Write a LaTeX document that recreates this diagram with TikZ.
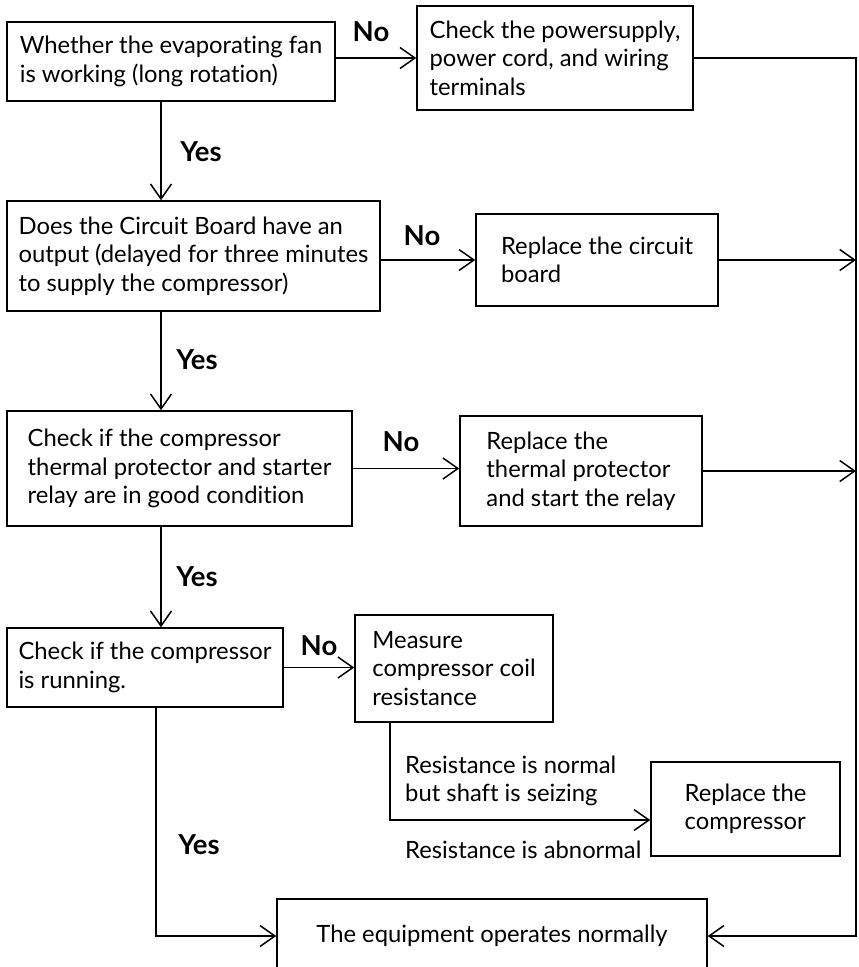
\documentclass[tikz,border=0pt]{standalone}
\usepackage{fontspec}
\setmainfont{Lato}[Ligatures=CommonOff]
\usetikzlibrary{arrows.meta, positioning}

\tikzset{
  box/.style={draw, line width=1.5pt, align=left, inner sep=0pt,
    font=\fontsize{23.8}{28.5}\selectfont},
  answer/.style={font=\fontsize{27.5}{30}\selectfont\bfseries},
  remark/.style={align=left, inner sep=0pt, anchor=west,
    font=\fontsize{23.8}{28.5}\selectfont},
  flow/.style={->, line width=1.5pt},
}

\begin{document}
\begin{tikzpicture}[x=1pt, y=-1pt, >={Straight Barb[length=15pt,width=21pt]}]
        \useasboundingbox (0,0) rectangle (859,967);
        % Boxes
        \node[box, minimum width=328, minimum height=79] (fan) at (171,61.5)
          {Whether the evaporating fan\\is working (long rotation)};
        \node[box, minimum width=276, minimum height=104] (power) at (555,58)
          {Check the powersupply,\\power cord, and wiring\\terminals};
        \node[box, minimum width=373, minimum height=110] (board) at (193.5,256)
          {Does the Circuit Board have an\\output (delayed for three minutes\\to supply the compressor)};
        \node[box, minimum width=242, minimum height=92] (newboard) at (597,260)
          {Replace the circuit\\board};
        \node[box, minimum width=345, minimum height=115] (relay) at (179.5,468.5)
          {Check if the compressor\\thermal protector and starter\\relay are in good condition};
        \node[box, minimum width=242, minimum height=110] (newrelay) at (581,471)
          {Replace the\\thermal protector\\and start the relay};
        \node[box, minimum width=276, minimum height=79] (running) at (145,667.5)
          {Check if the compressor\\is running.};
        \node[box, minimum width=198, minimum height=107] (coil) at (454,668.5)
          {Measure\\compressor coil\\resistance};
        \node[box, minimum width=189, minimum height=94] (newcomp) at (745.5,809)
          {Replace the\\compressor};
        \node[box, minimum width=430, minimum height=74] (normal) at (492,936)
          {The equipment operates normally};
        % Helper coordinates
        \coordinate (spine) at (161,0);
        \coordinate (drop) at (156,0);
        \coordinate (rail) at (856,0);
        \coordinate (seize) at (390,820);
        % Yes branch
        \draw[flow] (spine |- fan.south) -- (spine |- board.north);
        \draw[flow] (spine |- board.south) -- (spine |- relay.north);
        \draw[flow] (spine |- relay.south) -- (spine |- running.north);
        \draw[flow] (drop |- running.south) |- (normal.west);
        % No branch
        \draw[flow] (fan.east |- power.west) -- (power.west);
        \draw[flow] (board.east |- newboard.west) -- (newboard.west);
        \draw[flow] (relay.east) -- (relay.east -| newrelay.west);
        \draw[flow] (running.east) -- (running.east -| coil.west);
        \draw[flow] (seize |- coil.south) -- (seize) -- (seize -| newcomp.west);
        % Back to normal
        \draw[flow] (power.east) -| (rail |- normal.east) -- (normal.east);
        \draw[flow] (newboard.east) -- (rail |- newboard.east);
        \draw[flow] (newrelay.east) -- (rail |- newrelay.east);
        % Labels
        \node[answer] (no1) at (371,32) {No};
        \node[answer] (yes1) at (201,152) {Yes};
        \node[answer] (no2) at (422,236) {No};
        \node[answer] (yes2) at (197,360) {Yes};
        \node[answer] (no3) at (401,442) {No};
        \node[answer] (yes3) at (197,577) {Yes};
        \node[answer] (no4) at (319,646) {No};
        \node[answer] (yes4) at (199,845) {Yes};
        \node[remark] (seizing) at (405,781) {Resistance is normal\\but shaft is seizing};
        \node[remark] (abnormal) at (405,850) {Resistance is abnormal};
\end{tikzpicture}
\end{document}
